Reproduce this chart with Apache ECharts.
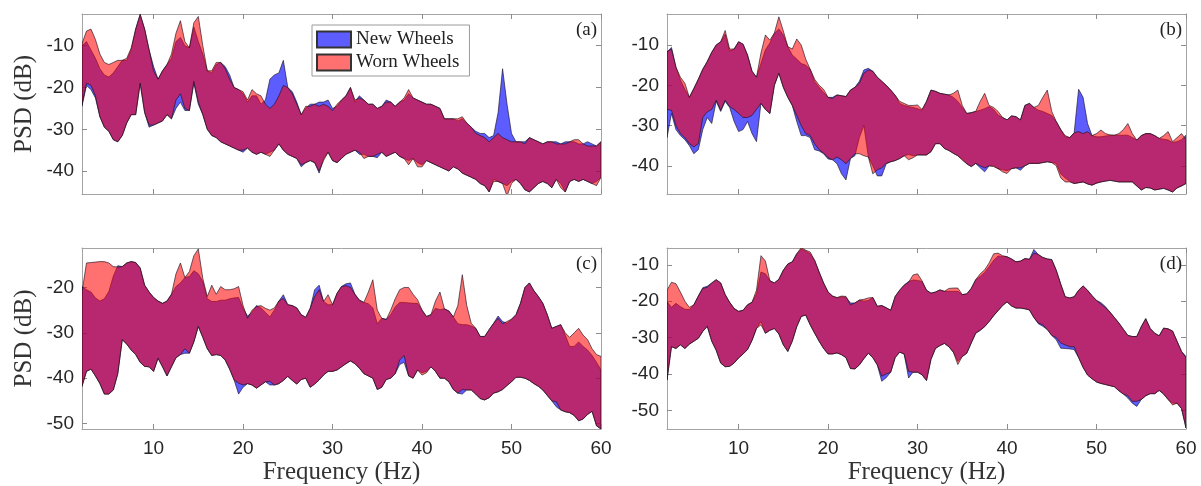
<!DOCTYPE html>
<html><head><meta charset="utf-8">
<script src="https://cdn.jsdelivr.net/npm/echarts@6/dist/echarts.min.js"></script>
<style>html,body{margin:0;padding:0;background:#fff}#c{width:1201px;height:486px}</style>
</head><body><div id="c"></div>
<script>
// frequency grid (Hz), 0.5 Hz step from 2 to 60
const freq = [];
for (let i = 0; i <= 116; i++) freq.push(2 + 0.5 * i);

const xTicks = [10, 20, 30, 40, 50, 60];
const aTicks = [-40, -30, -20, -10];
const bTicks = [-40, -30, -20, -10];
const cTicks = [-50, -40, -30, -20];
const dTicks = [-50, -40, -30, -20, -10];

// ---- Panel (a)
const aNewUp = [-10,-9,-11,-13,-15.5,-17,-17.5,-16.5,-15,-13.5,
-13.5,-11,-6,-2.5,-6,-11,-15,-18,-16,-14.5,
-13,-9,-8,-10,-10.5,-5.5,-9,-12,-16,-16.5,
-14.5,-14,-15,-17,-20,-20.5,-21.5,-23.5,-22,-22,
-24,-23,-18,-17,-16.5,-13.5,-20,-21,-23.5,-26.5,
-25,-24,-24,-23.5,-23.5,-23,-25,-24.5,-23,-22,
-20,-23.5,-22,-23,-24,-24,-25,-24.5,-23,-23.5,
-24.5,-23.5,-23,-21.5,-22.5,-23,-23.5,-24,-24,-24.5,
-25,-27.5,-27.5,-27.5,-28,-27.5,-28.5,-29.5,-30.5,-31,
-31,-32,-31.5,-26,-15.5,-24,-31,-33,-33,-33,
-32,-32.5,-33,-33.5,-33,-33,-33,-33.5,-33,-33,
-33,-33.5,-33.5,-33,-33.5,-34,-33];
const aNewLo = [-24.5,-19.5,-20.5,-22.5,-27,-29.5,-30.5,-32.5,-33,-31.5,
-28.5,-26.5,-26.5,-19,-26,-29.5,-29,-28.5,-28,-26.5,
-27.5,-25,-23.5,-25.5,-25.5,-19,-24,-26.5,-30,-31.5,
-32,-33,-33.5,-34,-34.5,-35,-35.5,-34.5,-35.5,-36,
-35.5,-36,-35.5,-35,-33.5,-35,-36,-36.5,-37,-39,
-38,-37.5,-38,-40.5,-37,-35.5,-37.5,-38,-37,-36,
-35.5,-35,-36,-36,-36.5,-36.5,-36.8,-35.5,-36.5,-36,
-35.5,-36.5,-37,-37.5,-37,-38,-38.5,-37.5,-38,-38.5,
-39,-39.5,-40,-39,-39.5,-40.5,-41,-41.5,-42,-43,
-43.5,-45,-42,-42.5,-43,-43.5,-42.5,-42,-43,-44.5,
-45,-44,-43,-42.5,-43,-44,-42,-43,-45,-42.5,
-42,-42.5,-42,-42.5,-43,-42.5,-41.5];
const aWornUp = [-9.5,-6.5,-6,-8.5,-12,-14,-14.5,-14,-13.5,-13.5,
-13,-10.5,-6,-2.5,-6,-11,-16,-18,-16,-14.5,
-12,-7,-4,-9,-10.5,-4.5,-3,-10,-16,-16,
-14,-14,-15.5,-18,-20,-20.5,-21,-23,-20.5,-21.5,
-22,-24,-25,-24,-22,-19.5,-20,-21.5,-24,-26.5,
-24.5,-24.5,-24,-24.5,-24,-24.5,-25.5,-24,-23,-22,
-20,-23,-22.5,-23,-24,-24,-25,-24.5,-23.5,-23.5,
-24.5,-23.5,-22.5,-20.5,-22.5,-23,-23.5,-24,-24,-24.5,
-25,-27.5,-27.5,-27.5,-27.5,-27,-28.5,-29.5,-31,-31.5,
-32,-33,-32,-31,-32,-32.5,-33,-33,-33,-33.5,
-32,-32.5,-33,-33.5,-33,-33,-33.5,-33.5,-33.5,-33,
-32.5,-32.5,-33.5,-34,-34,-34,-33];
const aWornLo = [-24,-19,-19.5,-22,-27,-29.5,-30.5,-32.5,-33,-31.5,
-28.5,-26.5,-26.5,-19,-26,-29,-29,-28.5,-28,-26.5,
-27.5,-23,-21.5,-25,-25.5,-18.5,-23.5,-26.5,-30,-31.5,
-32,-33,-33.5,-34,-34.5,-35,-35,-34.5,-35.5,-36,
-35.5,-36,-36.5,-35,-33.5,-35,-36,-36.5,-37,-38.5,
-38,-37.5,-38,-40,-37.5,-35.5,-37.5,-38,-37,-36,
-35.5,-35,-35.5,-37,-36.5,-36.5,-36,-35.5,-36.5,-36,
-35.5,-36.5,-37,-38.5,-37,-39,-39,-37.5,-38,-38.5,
-39,-39.5,-40,-39,-39.5,-40.5,-41,-41.5,-42,-43,
-43.5,-45,-42.5,-42.5,-43,-46,-43,-42,-43,-44.5,
-45,-44,-43,-42.5,-43,-44,-42,-44,-45,-42.5,
-42,-42.5,-42,-42.5,-43,-43.5,-41.5];

// ---- Panel (b)
const bNewUp = [-11.7,-10.6,-15.5,-18.7,-21,-23,-20.8,-18.5,-16,-14.1,
-11.8,-10,-9.2,-7.3,-11.5,-11,-9.2,-9.8,-12.5,-16.5,
-18,-14.6,-11.2,-9.5,-7.1,-6,-7.5,-10.4,-12.5,-13.5,
-14.6,-15,-16,-19.1,-20.5,-21.8,-23,-23,-22.4,-22.6,
-22.8,-21.2,-20.5,-19,-16.2,-15.8,-16.5,-18,-19,-20,
-21.2,-22.5,-24.5,-25,-25.3,-25.5,-25.8,-26.2,-24,-21.2,
-21.5,-22,-22.2,-22.4,-23,-24,-25.5,-27,-26.8,-26.5,
-26.2,-25.8,-25.3,-26,-27.4,-28,-28.6,-27.6,-27.8,-28.6,
-25,-24.5,-25.5,-26.2,-26.5,-27,-27.5,-29,-31,-32.8,
-33,-31.8,-21,-23,-29.5,-32.5,-32.8,-32.8,-32.6,-32.5,
-32.4,-32.4,-32.4,-32.4,-33,-33.6,-32.5,-32,-32,-32.5,
-33.2,-33.4,-33.6,-34.2,-34,-33.5,-32.4];
const bNewLo = [-33,-27,-31,-32.5,-33.5,-35,-37,-36,-31,-28,
-29.5,-24,-26.5,-24,-25.5,-29,-31.5,-31,-29,-32,
-34,-24.5,-26,-27,-20,-17,-20.5,-23,-25,-29,
-32.5,-32.5,-33,-36,-36.3,-37,-38.3,-38.5,-39.5,-42,
-43.5,-38.2,-37.5,-33,-30,-37.8,-40,-42.5,-42.5,-39.5,
-39,-38.7,-38.2,-37.5,-37.2,-37.5,-37.3,-37.3,-37.3,-36.5,
-34.5,-34.5,-35.7,-36.2,-36.9,-37.5,-38.3,-39.5,-40.2,-39.4,
-40.5,-41.5,-40,-40,-40.7,-41,-41.2,-40.7,-40.5,-41.1,
-40,-39.4,-39.4,-39.4,-39.2,-39,-39.2,-39.4,-42,-43,
-43.8,-44.4,-44.2,-44,-44.5,-44.8,-44.3,-44,-43.8,-43.6,
-43.8,-44,-44,-44,-44,-45,-46,-45.4,-45.5,-46,
-45.8,-45.6,-46,-46.5,-45.5,-45,-44.4];
const bWornUp = [-11.7,-11,-15.5,-18,-19.5,-23,-20.8,-18.5,-16,-14.1,
-11.8,-10,-9.2,-6.4,-11,-11,-9.2,-9.8,-12.5,-16.5,
-18,-12,-7.5,-8.8,-7,-3,-6.5,-10.4,-11,-8.5,
-10,-13.5,-16,-18.5,-20,-21,-23,-23.3,-22.4,-22.6,
-22.8,-21.2,-20.5,-19.5,-17,-16.2,-16.5,-18,-19,-20,
-21.2,-22.5,-24,-24.5,-25,-25,-24.9,-26,-24,-21.2,
-21.5,-22,-22.2,-22.4,-22,-21.2,-25,-27,-26.8,-26.5,
-24,-22,-25,-25.5,-26.5,-28,-28.6,-27.6,-27.8,-28.6,
-25,-24.5,-25.5,-25,-23,-21.2,-26.5,-29,-31,-32.5,
-33,-31.8,-31.5,-32,-31.5,-32.5,-32,-31.1,-32,-32.3,
-32.4,-32,-31,-29.5,-32,-33.6,-32.5,-32,-32,-32.5,
-33.2,-32.5,-31.5,-34,-33,-32,-33.5];
const bWornLo = [-26,-26.2,-30,-32,-33,-34.5,-35.3,-34.5,-28,-26.6,
-26,-23.7,-26.2,-23.7,-25.3,-26,-27,-28,-28,-27.5,
-26,-24.5,-26,-27,-20,-17,-20.5,-23,-25,-27.5,
-30,-32,-32.5,-34.5,-36,-36.8,-38,-38.5,-37.8,-38.5,
-39.5,-38.2,-37,-37,-37.5,-37.8,-42,-41,-40.5,-39.4,
-39,-38.7,-38.2,-37.5,-38.5,-38,-37.3,-37.3,-37.3,-36.5,
-34.5,-34.5,-35.7,-36.2,-36.9,-37.5,-38.6,-39.5,-40.2,-39.4,
-40,-40.5,-40,-40.2,-40.7,-41.5,-41.9,-40.7,-40.5,-40.5,
-40,-39.4,-39.4,-39.4,-39.2,-39,-39.2,-40,-43,-44,
-44,-44.4,-44.2,-44,-44.5,-44.8,-44.3,-44,-43.8,-43.6,
-43.8,-44,-44,-44,-44,-45,-46,-45.4,-45.5,-46,
-45.8,-45.6,-46,-46.5,-45.5,-45,-44.4];

// ---- Panel (c)
const cNewUp = [-19.8,-20.5,-21,-22.3,-23,-22.5,-20.9,-17.5,-15.2,-15.4,
-14.6,-14.3,-14.5,-15.7,-19.5,-21,-22.2,-23,-23.5,-23,
-21.5,-19.8,-19,-17.8,-17.6,-16.3,-17,-18.7,-22.5,-23.1,
-23.1,-22.8,-22.8,-22.5,-22.3,-22.2,-24.6,-26.3,-25.5,-24,
-24.5,-25.5,-26.5,-25,-23,-21.6,-23.8,-24,-24.5,-26,
-26.6,-24.6,-20.5,-19.5,-23.1,-23.8,-23.8,-21.3,-19.8,-19.2,
-19,-21.5,-22.8,-23.3,-23.6,-24.5,-28,-26.8,-27,-26,
-24.3,-23.3,-23.3,-23.4,-23.5,-23.5,-25,-26.4,-26,-24.6,
-24.9,-24.7,-25.2,-26.5,-28,-28.2,-28.2,-28.5,-29,-30.8,
-30.8,-29.3,-27.9,-26.3,-27.5,-27.9,-27,-26,-23.5,-20,
-19,-20.7,-22,-23.5,-26,-29,-28.6,-28.2,-30.5,-33,
-33,-32,-33,-33.8,-35,-36.5,-38.2];
const cNewLo = [-41.8,-38.5,-38,-39.5,-41.2,-43.5,-43.5,-42.6,-39,-31.5,
-32.5,-33.8,-34.8,-36.5,-37.4,-37.5,-38.5,-35.6,-37.5,-39.5,
-37.5,-35.5,-34.8,-34.5,-34.5,-32,-28.6,-31,-33.5,-35,
-34.8,-35,-36,-38,-40.4,-43.5,-42,-41.2,-41.5,-42.2,
-41.5,-40.8,-41.5,-41.5,-41.2,-40.5,-39.6,-40.5,-41.3,-40.3,
-40,-42,-41.3,-40.4,-39.3,-38.5,-38.5,-38.2,-37.5,-36.8,
-36.2,-36.8,-37.8,-39,-39.5,-40,-42.5,-42,-40.3,-40,
-39,-37,-36.5,-39.5,-40,-38.2,-38.8,-38.5,-37.5,-38.5,
-40,-40,-40.8,-42.5,-43.3,-43.5,-42.6,-42.6,-43.5,-44.5,
-44.8,-44.3,-43.3,-43,-42.5,-41.6,-40.8,-39.8,-39.8,-40,
-40.5,-41.2,-41.8,-42.6,-43.8,-45,-46.3,-47,-47.4,-47.6,
-48.2,-49.4,-49,-48,-47.3,-50.5,-51.2];
const cWornUp = [-21,-14.6,-14.5,-14.4,-14.3,-14.3,-14.6,-15.4,-15.5,-15.4,
-14.6,-14.3,-14.5,-15.7,-19.5,-21,-22.2,-23,-23.5,-23,
-21.5,-17,-14.6,-17.8,-16.5,-13,-11.5,-18,-22,-19.5,
-21.5,-19.8,-20.5,-20.5,-20.3,-19.8,-24,-26.8,-25,-24.2,
-24,-24.6,-25,-24.5,-23,-22.4,-23.8,-24,-24.5,-26,
-26.6,-24.6,-22,-20.5,-23.1,-21.6,-23.8,-21.3,-19.8,-19.6,
-20,-21.5,-22.8,-23.3,-21,-18.3,-25,-26.8,-27.1,-25,
-22.5,-20.5,-20,-20,-21.5,-22.7,-25,-26.4,-26,-23,
-21,-24.7,-25.2,-26.5,-24,-17.2,-24,-27.9,-29,-30.8,
-30.8,-29.3,-27.9,-26.8,-28,-27.5,-27,-26,-23.5,-20,
-19,-20.7,-22,-23.5,-26,-29,-28.6,-28.2,-30,-31,
-30,-29,-30.5,-31.5,-33.5,-34.8,-35.2];
const cWornLo = [-41.8,-38.5,-38,-39.5,-41.2,-43.5,-43.5,-42.6,-39,-31.5,
-32.5,-33.8,-34.8,-36.5,-37.4,-37.5,-38.5,-35.6,-37.5,-39.5,
-37.5,-35.5,-34.8,-33.5,-34.5,-32,-28.6,-31,-33.5,-35,
-34.8,-35,-36,-38,-40.4,-41.1,-41.5,-41.2,-41.5,-42.2,
-41.5,-40.8,-40.7,-41.5,-41.2,-40.5,-39.6,-40.5,-41.3,-40.3,
-40,-42,-41.3,-40.4,-39.3,-38.5,-38.5,-38.2,-37.5,-36.8,
-36.2,-36.8,-37.8,-39,-39.5,-40,-42.5,-42,-40.3,-40,
-39,-36,-35,-39.5,-40,-38.2,-39.3,-38.8,-37.5,-38.5,
-40,-40,-40.8,-42.5,-43.3,-42.5,-42.6,-42.6,-43.5,-44.5,
-44.8,-44.3,-43.3,-43,-42.5,-41.6,-40.8,-39.8,-39.8,-40,
-40.5,-41.2,-41.8,-42.6,-43.8,-45,-45.2,-47,-47.4,-47.6,
-48.2,-49.4,-49,-48,-47.3,-50.5,-51.2];

// ---- Panel (d)
const dNewUp = [-20.1,-21.7,-20.6,-21.5,-22.2,-22.3,-21,-18.6,-16.3,-15.9,
-15,-14.1,-15,-18.2,-20.3,-22,-22.8,-22.5,-21,-20.3,
-18,-12,-12.5,-14.4,-15,-14,-11.5,-9.8,-9.2,-7,
-5.7,-6.2,-7,-8.8,-12,-15,-17.5,-18.6,-19.1,-18.8,
-18.9,-20.5,-20.5,-19.7,-20,-19.8,-19,-21.4,-21.2,-21.8,
-22.5,-18.7,-17,-15.6,-14.6,-14.2,-14.3,-14.6,-17,-17.8,
-17.5,-16.9,-17.3,-17.3,-17.3,-17.3,-18.2,-18,-16.5,-14.1,
-13.2,-12.1,-10.5,-8.8,-7.6,-7.7,-7.8,-8.4,-9.2,-9,
-8.3,-8.5,-5.8,-7.2,-8,-8.4,-8.6,-11.5,-15.3,-18.8,
-19.1,-18.8,-17,-15.8,-17,-18.5,-19.8,-20.4,-21.5,-23,
-24.5,-26,-27.7,-29.4,-29.7,-29.7,-27,-24.8,-27.5,-28.8,
-29.5,-27.4,-27.6,-28.2,-31,-33.8,-35.2];
const dNewLo = [-41.6,-32.5,-33,-32,-33,-31.8,-31,-30.2,-28.3,-26.9,
-31,-33.5,-37,-38,-37.9,-37,-35.6,-34.5,-33.3,-30.8,
-27.5,-25.6,-28.8,-28,-27.5,-29,-32,-33.8,-31,-27,
-24.2,-23.8,-26.5,-28.8,-31,-33,-34.5,-34.5,-34.2,-34.7,
-35.5,-38.5,-38.6,-37.5,-35.8,-34.3,-35.5,-37.5,-42,-41,
-39.5,-35.5,-34,-34.5,-41.1,-39.5,-39.5,-40.2,-41.8,-36,
-33,-32.2,-31.6,-32.5,-34,-36.5,-35.2,-34.3,-31.5,-28.8,
-28,-27,-25.6,-24,-22.6,-21.2,-20.2,-21.3,-21.9,-21.9,
-22.1,-22.4,-24.5,-26.2,-26.9,-27.8,-29.4,-30.6,-32.9,-33,
-33.1,-33.3,-35.5,-38.2,-40.3,-41.3,-42.2,-42.6,-42.9,-43.2,
-43.5,-44.6,-45.5,-46.6,-48,-48.9,-47,-46,-45.4,-45.4,
-44.5,-45.5,-47,-48,-48,-49.5,-54.8];
const dWornUp = [-17,-14.8,-15.2,-17.5,-20,-21.7,-21,-18.6,-16.5,-16.2,
-15,-14.1,-15,-18.2,-20.3,-22,-22.8,-22.5,-21,-20.3,
-17,-7.5,-9,-14.4,-15,-14,-11.5,-9.8,-9.2,-7,
-5.3,-6,-6.5,-8.8,-12,-15,-17.5,-18.6,-19,-18.6,
-18.7,-21,-20.5,-19.7,-19.5,-19.1,-19,-21.4,-21.2,-21.8,
-22.5,-18.7,-17,-15.6,-14.8,-12.8,-12.5,-14.4,-17,-17.8,
-17.5,-16.9,-17.3,-16.5,-16.4,-16.4,-18.2,-18,-16.5,-14.1,
-12.5,-11.4,-9.5,-7,-6.8,-7.5,-7.8,-8.4,-9.2,-9,
-8.3,-8.5,-6.8,-7.2,-8,-8.4,-8.6,-11.5,-15.3,-18.8,
-19.1,-18.8,-17,-15.8,-17,-18.5,-19.8,-20.8,-21.8,-23,
-24.5,-26,-27.7,-29.4,-29.7,-29.7,-27,-24.8,-27.5,-28.8,
-29.5,-27.4,-27.6,-28.2,-31,-33.8,-35.5];
const dWornLo = [-41.6,-32.5,-33,-32,-33,-31.8,-31,-30.2,-28.3,-26.9,
-31,-33.5,-37,-38,-37.9,-37,-35.6,-34.5,-33.3,-30.8,
-27.5,-26.5,-28.8,-28,-27.5,-29,-32,-33.8,-31,-27,
-24.2,-23.8,-26.5,-28.8,-31,-33,-34.5,-34.5,-34.2,-34.7,
-35.5,-38.5,-38.6,-37.5,-35.8,-34.3,-35.5,-37.5,-40.6,-40,
-39.5,-35.5,-34,-34.5,-39.3,-39.5,-39.5,-40.2,-41.8,-36,
-33,-32.2,-31.6,-32.5,-34,-37.4,-35.2,-34.3,-31.5,-28.8,
-28,-27,-25.6,-24,-22.6,-21.2,-20.2,-21.3,-21.9,-21.9,
-22.1,-22.4,-24.5,-26,-26.5,-27.8,-29.4,-30,-31.5,-32,
-32.5,-32.5,-35.5,-38.2,-40.3,-41.3,-42.2,-42.6,-42.9,-43.2,
-43.5,-44.6,-45.5,-46,-47.5,-47.5,-47,-46,-45.4,-45.4,
-44.5,-45.5,-47,-48.5,-48,-49.5,-54.8];

const NEW_FILL = 'rgba(0,0,255,0.64)';
const WORN_FILL = 'rgba(255,0,0,0.56)';
const EDGE = 'rgba(25,15,35,0.8)';
const FRAME = '#a3a3a3';
const TXT = '#262626';

const panels = [
  {tag:'(a)', grid:{left:82, top:14, width:519, height:180}, yMin:-45.5, yMax:-2.4, yTicks:aTicks, xLabels:false, yName:true,
   nu:aNewUp, nl:aNewLo, wu:aWornUp, wl:aWornLo},
  {tag:'(b)', grid:{left:667, top:14, width:519, height:180}, yMin:-47, yMax:-2.3, yTicks:bTicks, xLabels:false, yName:false,
   nu:bNewUp, nl:bNewLo, wu:bWornUp, wl:bWornLo},
  {tag:'(c)', grid:{left:82, top:248, width:519, height:182}, yMin:-51.2, yMax:-11.3, yTicks:cTicks, xLabels:true, yName:true,
   nu:cNewUp, nl:cNewLo, wu:cWornUp, wl:cWornLo},
  {tag:'(d)', grid:{left:667, top:248, width:519, height:182}, yMin:-55.1, yMax:-5.4, yTicks:dTicks, xLabels:true, yName:false,
   nu:dNewUp, nl:dNewLo, wu:dWornUp, wl:dWornLo}
];

const grids = [], xAxes = [], yAxes = [], series = [], graphics = [];
const lblFont = 'Liberation Sans';
const serif = 'Liberation Serif';

panels.forEach((p, k) => {
  grids.push(Object.assign({containLabel:false}, p.grid));
  const tickCommon = {show:true, inside:true, length:5, lineStyle:{color:'#8c8c8c', width:1}};
  xAxes.push({
    type:'value', gridIndex:k, min:2, max:60, position:'bottom',
    axisLine:{show:true, onZero:false, lineStyle:{color:FRAME, width:1}},
    axisTick:Object.assign({customValues:xTicks}, tickCommon),
    axisLabel:{show:p.xLabels, customValues:xTicks, fontFamily:lblFont, fontSize:19, color:TXT, margin:10},
    splitLine:{show:false},
    name: p.xLabels ? 'Frequency (Hz)' : '', nameLocation:'middle', nameGap:31,
    nameTextStyle:{fontFamily:serif, fontSize:25, color:'#333'}
  });
  xAxes.push({
    type:'value', gridIndex:k, min:2, max:60, position:'top',
    axisLine:{show:true, onZero:false, lineStyle:{color:FRAME, width:1}},
    axisTick:Object.assign({customValues:xTicks}, tickCommon),
    axisLabel:{show:false}, splitLine:{show:false}
  });
  yAxes.push({
    type:'value', gridIndex:k, min:p.yMin, max:p.yMax, position:'left',
    axisLine:{show:true, onZero:false, lineStyle:{color:FRAME, width:1}},
    axisTick:Object.assign({customValues:p.yTicks}, tickCommon),
    axisLabel:{show:true, customValues:p.yTicks, fontFamily:lblFont, fontSize:19, color:TXT, margin:8},
    splitLine:{show:false},
    name: p.yName ? 'PSD (dB)' : '', nameLocation:'middle', nameGap:45, nameRotate:90,
    nameTextStyle:{fontFamily:serif, fontSize:25, color:'#333'}
  });
  yAxes.push({
    type:'value', gridIndex:k, min:p.yMin, max:p.yMax, position:'right',
    axisLine:{show:true, onZero:false, lineStyle:{color:FRAME, width:1}},
    axisTick:Object.assign({customValues:p.yTicks}, tickCommon),
    axisLabel:{show:false}, splitLine:{show:false}
  });

  const band = (name, up, lo, fill) => ({
    type:'custom', name, xAxisIndex:2*k, yAxisIndex:2*k, clip:true,
    itemStyle:{color:fill, borderColor:'#333', borderWidth:1},
    data: freq.map((f, i) => [f, up[i], lo[i]]),
    encode:{x:0, y:[1, 2]},
    renderItem:(params, api) => {
      if (params.dataIndex !== 0) return null;
      const pts = [];
      for (let i = 0; i < freq.length; i++) pts.push(api.coord([freq[i], up[i]]));
      for (let i = freq.length - 1; i >= 0; i--) pts.push(api.coord([freq[i], lo[i]]));
      return {type:'polygon', shape:{points:pts},
        style:{fill:fill, stroke:EDGE, lineWidth:0.8, lineJoin:'round'}};
    },
    silent:true, animation:false
  });
  series.push(band('New Wheels', p.nu, p.nl, NEW_FILL));
  series.push(band('Worn Wheels', p.wu, p.wl, WORN_FILL));

  graphics.push({
    type:'text', x:p.grid.left + p.grid.width - 4, y:p.grid.top + 16, z:100,
    style:{text:p.tag, align:'right', verticalAlign:'middle', fontFamily:serif, fontSize:19, fill:'#222'}
  });
});

const chart = echarts.init(document.getElementById('c'), null, {renderer:'canvas'});
chart.setOption({
  animation:false,
  backgroundColor:'#fff',
  grid:grids, xAxis:xAxes, yAxis:yAxes, series:series, graphic:graphics,
  legend:{
    left:312, top:25, orient:'vertical', selectedMode:false,
    data:[{name:'New Wheels', icon:'rect'}, {name:'Worn Wheels', icon:'rect'}],
    itemWidth:34, itemHeight:16, itemGap:4,
    padding:[5, 10, 4, 4], backgroundColor:'#fff', borderColor:'#9a9a9a', borderWidth:1,
    textStyle:{fontFamily:serif, fontSize:19, color:'#222'}
  }
});
</script>
</body></html>
